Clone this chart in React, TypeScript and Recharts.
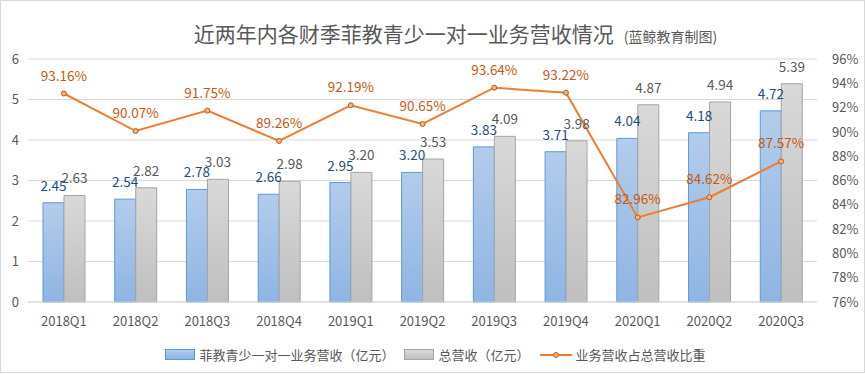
import {
  Bar,
  CartesianGrid,
  ComposedChart,
  LabelList,
  Line,
  XAxis,
  YAxis,
} from 'recharts';

const quarters = [
  '2018Q1', '2018Q2', '2018Q3', '2018Q4',
  '2019Q1', '2019Q2', '2019Q3', '2019Q4',
  '2020Q1', '2020Q2', '2020Q3',
];
const tutoringRevenue = [2.45, 2.54, 2.78, 2.66, 2.95, 3.2, 3.83, 3.71, 4.04, 4.18, 4.72];
const totalRevenue = [2.63, 2.82, 3.03, 2.98, 3.2, 3.53, 4.09, 3.98, 4.87, 4.94, 5.39];
const tutoringShare = [93.16, 90.07, 91.75, 89.26, 92.19, 90.65, 93.64, 93.22, 82.96, 84.62, 87.57];
const leftTicks = [0, 1, 2, 3, 4, 5, 6];
const rightTicks = [76, 78, 80, 82, 84, 86, 88, 90, 92, 94, 96];

const seriesNames = {
  tutoring: '菲教青少一对一业务营收（亿元）',
  total: '总营收（亿元）',
  share: '业务营收占总营收比重',
};

const rows = quarters.map((q, i) => ({
  quarter: q,
  tutoring: tutoringRevenue[i],
  total: totalRevenue[i],
  share: tutoringShare[i],
}));

const FONT = '"Noto Sans CJK SC", "Microsoft YaHei", sans-serif';
const TEXT = '#595959';

function ChartLegend() {
  return (
    <div
      style={{
        position: 'absolute',
        left: 0,
        top: 344,
        width: 863,
        display: 'flex',
        justifyContent: 'center',
        alignItems: 'center',
        fontFamily: FONT,
        fontSize: 13,
        color: TEXT,
        paddingLeft: 6,
        boxSizing: 'border-box',
      }}
    >
      <span style={{ display: 'flex', alignItems: 'center', marginRight: 10 }}>
        <i
          style={{
            display: 'inline-block',
            width: 28,
            height: 9,
            marginRight: 4,
            border: '1px solid #5B9BD5',
            background: 'linear-gradient(#B3CCEC, #8FB5E3)',
          }}
        />
        {seriesNames.tutoring}
      </span>
      <span style={{ display: 'flex', alignItems: 'center', marginRight: 10 }}>
        <i
          style={{
            display: 'inline-block',
            width: 28,
            height: 9,
            marginRight: 4,
            border: '1px solid #A5A5A5',
            background: 'linear-gradient(#D9D9D9, #BFBFBF)',
          }}
        />
        {seriesNames.total}
      </span>
      <span style={{ display: 'flex', alignItems: 'center' }}>
        <svg width={32} height={10} style={{ marginRight: 4 }}>
          <line x1={0} y1={5} x2={32} y2={5} stroke="#ED7D31" strokeWidth={2} />
          <circle cx={16} cy={5} r={2.5} fill="#F4B183" stroke="#C55A11" strokeWidth={1} />
        </svg>
        {seriesNames.share}
      </span>
    </div>
  );
}

export default function App() {
  return (
    <div
      style={{
        position: 'absolute',
        left: 0,
        top: 0,
        width: 863,
        height: 371,
        border: '1px solid #D9D9D9',
        background: '#fff',
        overflow: 'hidden',
      }}
    >
      <div
        style={{
          position: 'absolute',
          top: 17,
          left: 0,
          width: 863,
          paddingLeft: 46,
          boxSizing: 'border-box',
          textAlign: 'center',
          fontFamily: FONT,
          color: TEXT,
          whiteSpace: 'nowrap',
        }}
      >
        <span style={{ fontSize: 21 }}>近两年内各财季菲教青少一对一业务营收情况</span>
        <span style={{ fontSize: 14, marginLeft: 10 }}>(蓝鲸教育制图)</span>
      </div>
      <ComposedChart
        width={863}
        height={371}
        data={rows}
        margin={{ top: 58, right: 0, bottom: 40, left: 0 }}
        barGap={0}
        style={{ fontFamily: FONT }}
      >
        <CartesianGrid yAxisId="left" vertical={false} stroke="#D9D9D9" />
        <XAxis
          dataKey="quarter"
          axisLine={{ stroke: '#D9D9D9' }}
          tickLine={false}
          tick={{ fill: TEXT, fontSize: 13 }}
          tickMargin={9}
          height={30}
        />
        <YAxis
          yAxisId="left"
          domain={[0, 6]}
          ticks={leftTicks}
          width={27}
          axisLine={false}
          tickLine={false}
          tickSize={0}
          tickMargin={9}
          tick={{ fill: TEXT, fontSize: 13 }}
        />
        <YAxis
          yAxisId="right"
          orientation="right"
          domain={[76, 96]}
          ticks={rightTicks}
          width={47}
          axisLine={false}
          tickLine={false}
          tickSize={0}
          tickMargin={15}
          tickFormatter={(v: number) => `${v}%`}
          tick={{ fill: TEXT, fontSize: 13, textAnchor: 'start' }}
        />
        <defs>
          <linearGradient id="blueFill" x1="0" y1="0" x2="0" y2="1">
            <stop offset="0%" stopColor="#B3CCEC" />
            <stop offset="100%" stopColor="#8FB5E3" />
          </linearGradient>
          <linearGradient id="grayFill" x1="0" y1="0" x2="0" y2="1">
            <stop offset="0%" stopColor="#D9D9D9" />
            <stop offset="100%" stopColor="#BFBFBF" />
          </linearGradient>
        </defs>
        <Bar
          yAxisId="left"
          dataKey="tutoring"
          name={seriesNames.tutoring}
          barSize={21}
          fill="url(#blueFill)"
          stroke="#5B9BD5"
          strokeWidth={1}
          isAnimationActive={false}
        >
          <LabelList
            dataKey="tutoring"
            position="top"
            offset={12}
            formatter={(v: number) => v.toFixed(2)}
            style={{ fill: '#1F4E79', fontSize: 13.5 }}
          />
        </Bar>
        <Bar
          yAxisId="left"
          dataKey="total"
          name={seriesNames.total}
          barSize={21}
          fill="url(#grayFill)"
          stroke="#A5A5A5"
          strokeWidth={1}
          isAnimationActive={false}
        >
          <LabelList
            dataKey="total"
            position="top"
            offset={12}
            formatter={(v: number) => v.toFixed(2)}
            style={{ fill: TEXT, fontSize: 13.5 }}
          />
        </Bar>
        <Line
          yAxisId="right"
          dataKey="share"
          name={seriesNames.share}
          stroke="#ED7D31"
          strokeWidth={2}
          dot={{ r: 2.5, fill: '#F4B183', stroke: '#C55A11', strokeWidth: 1 }}
          activeDot={false}
          isAnimationActive={false}
        >
          <LabelList
            dataKey="share"
            position="top"
            offset={13}
            formatter={(v: number) => `${v.toFixed(2)}%`}
            style={{ fill: '#C55A11', fontSize: 13.5 }}
          />
        </Line>
      </ComposedChart>
      <ChartLegend />
    </div>
  );
}
